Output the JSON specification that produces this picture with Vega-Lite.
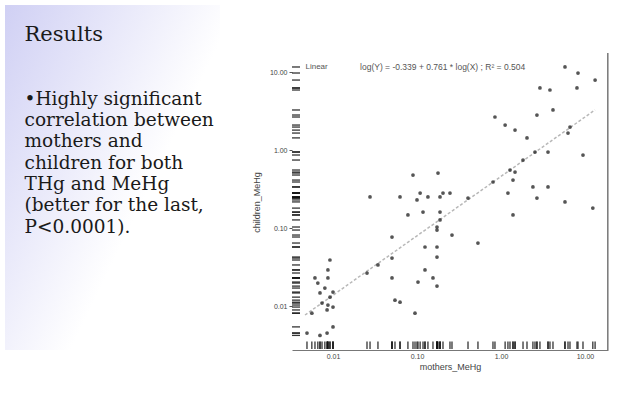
{
  "$schema": "https://vega.github.io/schema/vega-lite/v6.json",
  "background": "white",
  "padding": 5,
  "bounds": "flush",
  "spacing": 72,
  "config": {"view": {"stroke": null}},
  "datasets": {
    "slide": [
      {"text": "•Highly significant", "line": 3},
      {"text": "correlation between", "line": 4},
      {"text": "mothers and", "line": 5},
      {"text": "children for both", "line": 6},
      {"text": "THg and MeHg", "line": 7},
      {"text": "(better for the last,", "line": 8},
      {"text": "P<0.0001).", "line": 9}
    ],
    "points": [
      {"mother": 0.0092, "child": 0.0389}, {"mother": 0.0087, "child": 0.029}, {"mother": 0.0087, "child": 0.0229},
      {"mother": 0.0061, "child": 0.0229}, {"mother": 0.0066, "child": 0.0197}, {"mother": 0.008, "child": 0.017},
      {"mother": 0.01, "child": 0.0151}, {"mother": 0.0092, "child": 0.013}, {"mother": 0.007, "child": 0.0147},
      {"mother": 0.0074, "child": 0.0109}, {"mother": 0.0087, "child": 0.0103}, {"mother": 0.01, "child": 0.0097},
      {"mother": 0.0085, "child": 0.0089}, {"mother": 0.01, "child": 0.0054}, {"mother": 0.007, "child": 0.0042},
      {"mother": 0.0085, "child": 0.0045}, {"mother": 0.0056, "child": 0.0081}, {"mother": 0.0049, "child": 0.0045},
      {"mother": 0.0254, "child": 0.0265}, {"mother": 0.0343, "child": 0.0336}, {"mother": 0.0504, "child": 0.0767},
      {"mother": 0.0504, "child": 0.0412}, {"mother": 0.0504, "child": 0.0229}, {"mother": 0.0628, "child": 0.0112},
      {"mother": 0.0547, "child": 0.0119}, {"mother": 0.0947, "child": 0.0081}, {"mother": 0.1028, "child": 0.0203},
      {"mother": 0.1245, "child": 0.029}, {"mother": 0.155, "child": 0.0229}, {"mother": 0.173, "child": 0.018},
      {"mother": 0.1245, "child": 0.0571}, {"mother": 0.173, "child": 0.0571}, {"mother": 0.173, "child": 0.0425},
      {"mother": 0.261, "child": 0.0813}, {"mother": 0.173, "child": 0.103}, {"mother": 0.173, "child": 0.0942},
      {"mother": 0.188, "child": 0.127}, {"mother": 0.078, "child": 0.147}, {"mother": 0.118, "child": 0.16},
      {"mother": 0.188, "child": 0.16}, {"mother": 0.1, "child": 0.229}, {"mother": 0.109, "child": 0.281},
      {"mother": 0.135, "child": 0.25}, {"mother": 0.204, "child": 0.281}, {"mother": 0.247, "child": 0.281},
      {"mother": 0.188, "child": 0.25}, {"mother": 0.0628, "child": 0.25}, {"mother": 0.0276, "child": 0.25},
      {"mother": 0.0896, "child": 0.478}, {"mother": 0.178, "child": 0.507}, {"mother": 0.405, "child": 0.242},
      {"mother": 0.532, "child": 0.0642}, {"mother": 5.78, "child": 11.6}, {"mother": 8.26, "child": 9.71},
      {"mother": 13.2, "child": 7.89}, {"mother": 2.91, "child": 6.24}, {"mother": 3.83, "child": 5.88},
      {"mother": 8.03, "child": 6.24}, {"mother": 4.16, "child": 3.26}, {"mother": 2.68, "child": 2.81},
      {"mother": 0.848, "child": 2.65}, {"mother": 1.12, "child": 2.09}, {"mother": 6.63, "child": 1.97},
      {"mother": 6.28, "child": 1.65}, {"mother": 2.04, "child": 1.43}, {"mother": 1.47, "child": 1.8},
      {"mother": 2.54, "child": 0.943}, {"mother": 3.63, "child": 0.943}, {"mother": 9.47, "child": 0.863},
      {"mother": 1.83, "child": 0.744}, {"mother": 1.28, "child": 0.554}, {"mother": 1.47, "child": 0.522},
      {"mother": 1.39, "child": 0.412}, {"mother": 0.803, "child": 0.389}, {"mother": 2.4, "child": 0.336},
      {"mother": 3.63, "child": 0.336}, {"mother": 1.21, "child": 0.281}, {"mother": 2.68, "child": 0.242},
      {"mother": 5.78, "child": 0.216}, {"mother": 12.4, "child": 0.18}, {"mother": 1.39, "child": 0.147}
    ],
    "fit": [
      {"mother": 0.00464, "child": 0.00767},
      {"mother": 13.15, "child": 3.26}
    ],
    "frame": [
      {"mother": 18.7, "child": 0.00273},
      {"mother": 18.7, "child": 17.5}
    ],
    "one": [{}]
  },
  "hconcat": [
    {
      "width": 215,
      "height": 345,
      "view": {"stroke": null, "fill": {"gradient": "linear", "x1": 0, "y1": 0, "x2": 0.9, "y2": 0.7, "stops": [{"offset": 0, "color": "#d0d0f4"}, {"offset": 0.75, "color": "#ffffff"}]}},
      "layer": [
        {
          "data": {"values": [{"text": "Results", "line": 0}]},
          "mark": {"type": "text", "font": "DejaVu Serif", "fontSize": 21, "align": "left", "baseline": "middle", "color": "#1a1a1a"},
          "encoding": {
            "x": {"datum": 0, "type": "quantitative", "scale": {"domain": [-0.08, 0.92]}, "axis": null},
            "y": {"field": "line", "type": "quantitative", "scale": {"domain": [-1.408, 14.79], "reverse": true, "nice": false, "zero": false}, "axis": null},
            "text": {"field": "text"}
          }
        },
        {
          "data": {"name": "slide"},
          "mark": {"type": "text", "font": "DejaVu Serif", "fontSize": 18.5, "align": "left", "baseline": "middle", "color": "#1a1a1a"},
          "encoding": {
            "x": {"datum": 0, "type": "quantitative"},
            "y": {"field": "line", "type": "quantitative"},
            "text": {"field": "text"}
          }
        }
      ]
    },
    {
      "width": 316,
      "height": 345,
      "layer": [
        {
          "data": {"name": "fit"},
          "mark": {"type": "line", "color": "#b8b8b8", "strokeWidth": 1.5, "strokeDash": [3, 2]},
          "encoding": {
            "x": {"field": "mother", "type": "quantitative", "scale": {"type": "log", "domain": [0.00325, 18.8], "nice": false},
              "axis": {"values": [0.01, 0.1, 1, 10], "format": ".2f", "title": "mothers_MeHg", "labelFont": "Liberation Sans", "labelFontSize": 7, "labelColor": "#444", "labelPadding": 2, "ticks": false, "domainColor": "#777", "grid": false, "titleFont": "Liberation Sans", "titleFontSize": 9, "titleFontWeight": "normal", "titleColor": "#444", "titlePadding": 3}},
            "y": {"field": "child", "type": "quantitative", "scale": {"type": "log", "domain": [0.00273, 72.3], "nice": false},
              "axis": {"values": [0.01, 0.1, 1, 10], "format": ".2f", "title": "children_MeHg", "labelFont": "Liberation Sans", "labelFontSize": 7, "labelColor": "#444", "labelPadding": 2, "ticks": true, "tickSize": 3, "tickColor": "#555", "domain": false, "grid": false, "titleFont": "Liberation Sans", "titleFontSize": 9, "titleFontWeight": "normal", "titleColor": "#444", "titlePadding": 8, "titleY": 197}}
          }
        },
        {
          "data": {"name": "frame"},
          "mark": {"type": "line", "color": "#777", "strokeWidth": 1.5},
          "encoding": {
            "x": {"field": "mother", "type": "quantitative"},
            "y": {"field": "child", "type": "quantitative"}
          }
        },
        {
          "data": {"name": "points"},
          "mark": {"type": "rule", "color": "#111", "strokeWidth": 1.3, "opacity": 0.85},
          "encoding": {
            "x": {"field": "mother", "type": "quantitative"},
            "y": {"datum": 0.00282},
            "y2": {"datum": 0.0035}
          }
        },
        {
          "data": {"name": "points"},
          "mark": {"type": "rule", "color": "#111", "strokeWidth": 1.3, "opacity": 0.85},
          "encoding": {
            "y": {"field": "child", "type": "quantitative"},
            "x": {"datum": 0.00325},
            "x2": {"datum": 0.00405}
          }
        },
        {
          "data": {"name": "points"},
          "mark": {"type": "circle", "color": "#2a2a2a", "size": 14, "opacity": 0.8},
          "encoding": {
            "x": {"field": "mother", "type": "quantitative"},
            "y": {"field": "child", "type": "quantitative"}
          }
        },
        {
          "data": {"name": "one"},
          "mark": {"type": "text", "font": "Liberation Sans", "fontSize": 8, "align": "left", "baseline": "middle", "color": "#555"},
          "encoding": {
            "x": {"datum": 0.0047},
            "y": {"datum": 11.6},
            "text": {"value": "Linear"}
          }
        },
        {
          "data": {"name": "one"},
          "mark": {"type": "text", "font": "Liberation Sans", "fontSize": 8.5, "align": "left", "baseline": "middle", "color": "#555"},
          "encoding": {
            "x": {"datum": 0.021},
            "y": {"datum": 11.6},
            "text": {"value": "log(Y) = -0.339 + 0.761 * log(X) ;  R² = 0.504"}
          }
        }
      ]
    }
  ]
}
